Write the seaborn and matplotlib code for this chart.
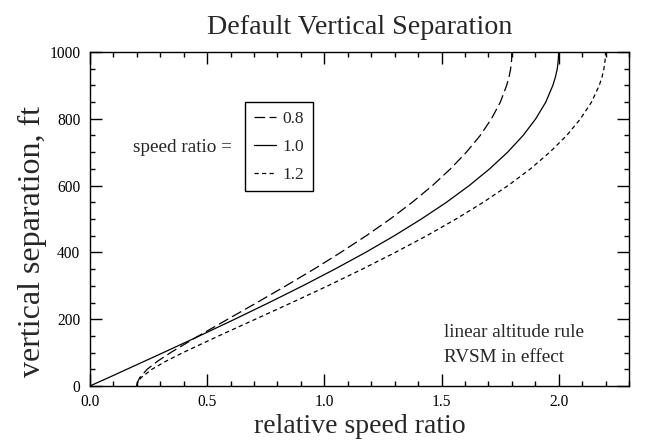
import numpy as np
import pandas as pd
import matplotlib
matplotlib.use("Agg")
import matplotlib.pyplot as plt
import seaborn as sns
from matplotlib.ticker import MultipleLocator

# vertical separation (ft) and relative speed ratio
sep_ft = [0, 10, 25, 50, 75, 100, 150, 200, 250, 300, 350, 400, 450, 500,
          550, 600, 650, 700, 750, 800, 850, 900, 925, 950, 975, 1000]
rel_08 = [0.200, 0.202, 0.212, 0.244, 0.290, 0.344, 0.463, 0.588, 0.713, 0.836,
          0.956, 1.070, 1.179, 1.281, 1.375, 1.461, 1.538, 1.606, 1.665, 1.713,
          1.751, 1.778, 1.788, 1.795, 1.799, 1.800]
rel_10 = [0.000, 0.031, 0.079, 0.157, 0.235, 0.313, 0.467, 0.618, 0.765, 0.908,
          1.045, 1.176, 1.299, 1.414, 1.521, 1.618, 1.705, 1.782, 1.848, 1.902,
          1.945, 1.975, 1.986, 1.994, 1.998, 2.000]
rel_12 = [0.200, 0.203, 0.218, 0.264, 0.326, 0.397, 0.549, 0.706, 0.862, 1.015,
          1.162, 1.303, 1.437, 1.562, 1.678, 1.784, 1.879, 1.962, 2.034, 2.093,
          2.140, 2.173, 2.185, 2.193, 2.198, 2.200]
ratios = ["0.8", "1.0", "1.2"]

frames = []
for lab, xs in zip(ratios, [rel_08, rel_10, rel_12]):
    frames.append(pd.DataFrame({"x": xs, "h": sep_ft, "ratio": lab}))
df = pd.concat(frames, ignore_index=True)

sns.set_style("ticks")
plt.rcParams["font.family"] = ["Liberation Serif", "DejaVu Serif"]

fig = plt.figure(figsize=(6.52, 4.42), dpi=100)
ax = fig.add_axes([90 / 652, 56 / 442, 539 / 652, 334 / 442])

dash_map = {"0.8": (8.5, 3.5), "1.0": "", "1.2": (3.4, 2.6)}
sns.lineplot(data=df, x="x", y="h", hue="ratio", style="ratio",
             palette={r: "black" for r in ratios}, dashes=dash_map,
             sort=False, estimator=None, linewidth=0.9, legend=False, ax=ax)

ax.set_xlim(0, 2.3)
ax.set_ylim(0, 1000)
ax.xaxis.set_major_locator(MultipleLocator(0.5))
ax.xaxis.set_minor_locator(MultipleLocator(0.1))
ax.yaxis.set_major_locator(MultipleLocator(200))
ax.yaxis.set_minor_locator(MultipleLocator(50))
ax.xaxis.set_major_formatter(matplotlib.ticker.FormatStrFormatter("%.1f"))
ax.tick_params(which="both", direction="in", top=True, right=True,
               colors="black", width=1.0)
ax.tick_params(which="major", length=8.5, labelsize=11.2)
ax.tick_params(axis="x", which="major", pad=6)
ax.tick_params(axis="y", which="major", pad=7)
ax.tick_params(which="minor", length=3.8)
for s in ax.spines.values():
    s.set_linewidth(1.0)
    s.set_color("black")

ax.set_xlabel("relative speed ratio", fontsize=20)
ax.set_ylabel("vertical separation, ft", fontsize=23)
ax.xaxis.set_label_coords(0.5, -0.085)
ax.yaxis.set_label_coords(-0.08, 0.434)
ax.set_title("Default Vertical Separation", fontsize=20.2, pad=13)

lines = ax.get_lines()[:3]
leg = ax.legend(lines, ratios, loc="upper left",
                bbox_to_anchor=(0.2876, 0.8503), borderaxespad=0,
                fontsize=12.5, handlelength=1.3, handletextpad=0.35,
                labelspacing=0.68, borderpad=0.5, fancybox=False,
                framealpha=1, edgecolor="black")
leg.get_frame().set_linewidth(1.0)

ax.text(0.2635, 0.7126, "speed ratio =", transform=ax.transAxes,
        ha="right", va="center", fontsize=13.8)
ax.text(0.657, 0.1228, "linear altitude rule\nRVSM in effect",
        transform=ax.transAxes, ha="left", va="center", fontsize=13.8,
        linespacing=1.6)

fig.savefig("out.png", dpi=100)
